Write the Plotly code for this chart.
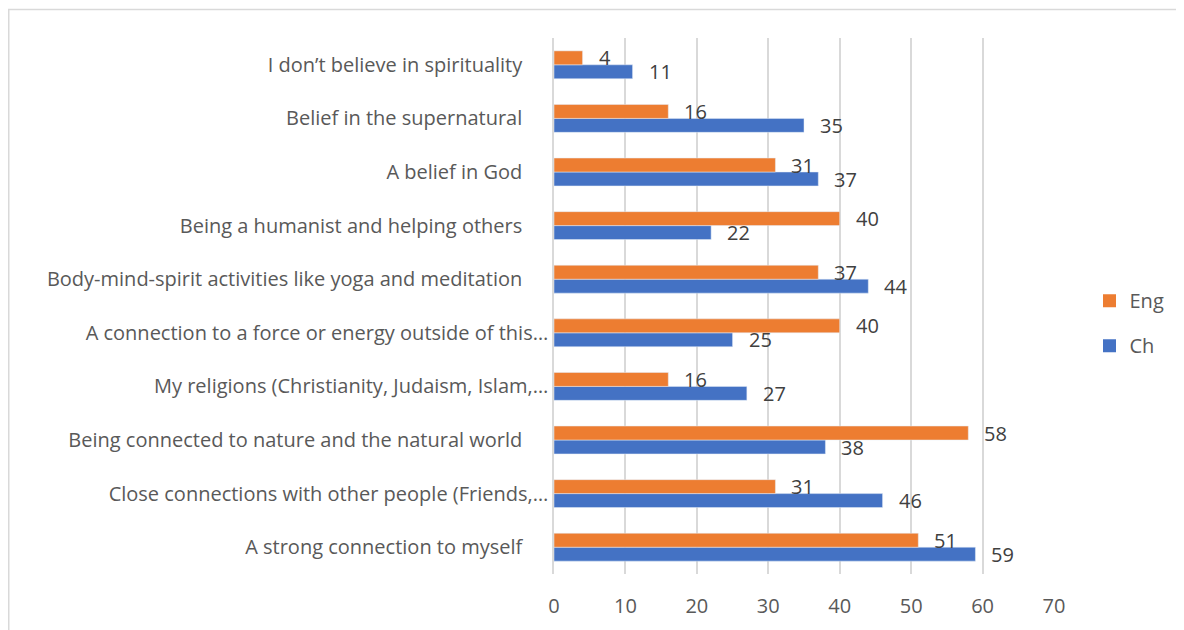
import plotly.graph_objects as go

# categories listed bottom -> top (as drawn on the y axis)
categories = [
    "A strong connection to myself",
    "Close connections with other people (Friends,…",
    "Being connected to nature and the natural world",
    "My religions (Christianity, Judaism, Islam,…",
    "A connection to a force or energy outside of this…",
    "Body-mind-spirit activities like yoga and meditation",
    "Being a humanist and helping others",
    "A belief in God",
    "Belief in the supernatural",
    "I don’t believe in spirituality",
]
eng = [51, 31, 58, 16, 40, 37, 40, 31, 16, 4]
ch = [59, 46, 38, 27, 25, 44, 22, 37, 35, 11]
x_ticks = [0, 10, 20, 30, 40, 50, 60, 70]

ORANGE = "#ED7D31"
BLUE = "#4472C4"
TEXT = "#595959"
GRID = "#D9D9D9"
FONT = "Open Sans"

W, H = 1176, 622          # page has an 8px body margin
L, T, PW, PH = 546, 30, 500, 536

ticktext = [c if c.endswith("…") else c + "\u00a0" * 5 for c in categories]

fig = go.Figure()
fig.add_trace(go.Bar(y=categories, x=ch, name="Ch", orientation="h",
                     marker=dict(color=BLUE), showlegend=False))
fig.add_trace(go.Bar(y=categories, x=eng, name="Eng", orientation="h",
                     marker=dict(color=ORANGE), showlegend=False))
# legend entries with larger square swatches
fig.add_trace(go.Scatter(x=[None], y=[None], mode="markers", name="Eng",
                         marker=dict(symbol="square", size=13, color=ORANGE),
                         legendgroup="eng"))
fig.add_trace(go.Scatter(x=[None], y=[None], mode="markers", name="Ch",
                         marker=dict(symbol="square", size=13, color=BLUE),
                         legendgroup="ch"))

annotations = []
for series, shift in ((eng, 7), (ch, -7)):
    for cat, v in zip(categories, series):
        annotations.append(dict(x=v, y=cat, xref="x", yref="y", text=str(v),
                                showarrow=False, xanchor="left", yanchor="middle",
                                xshift=14, yshift=shift,
                                font=dict(family=FONT, size=20, color="#404040")))

fig.update_layout(
    width=W, height=H,
    margin=dict(l=L, r=W - L - PW, t=T, b=H - T - PH),
    paper_bgcolor="white", plot_bgcolor="white",
    barmode="group", bargap=0.48, bargroupgap=0,
    font=dict(family=FONT, size=20, color=TEXT),
    annotations=annotations,
    legend=dict(x=1.071, y=0.468, xanchor="left", yanchor="middle",
                traceorder="grouped", tracegroupgap=16,
                font=dict(family=FONT, size=20, color=TEXT),
                bgcolor="rgba(0,0,0,0)"),
    xaxis=dict(range=[0, 70], tickvals=x_ticks, showgrid=True, gridcolor=GRID,
               gridwidth=1.5, zeroline=False, showline=False,
               ticklabelstandoff=18,
               tickfont=dict(family=FONT, size=20, color=TEXT)),
    yaxis=dict(categoryorder="array", categoryarray=categories,
               tickvals=categories, ticktext=ticktext,
               showline=True, linecolor=GRID, linewidth=1.5, showgrid=False,
               ticks="", tickfont=dict(family=FONT, size=20, color=TEXT)),
    shapes=[dict(type="rect", xref="paper", yref="paper",
                 x0=(0.75 - L) / PW, x1=(1190 - L) / PW,
                 y0=(T + PH - 700) / PH, y1=(T + PH - 1.5) / PH,
                 line=dict(color="#D9D9D9", width=1.5), fillcolor="rgba(0,0,0,0)",
                 layer="below")],
)

fig.write_html("out.html")
